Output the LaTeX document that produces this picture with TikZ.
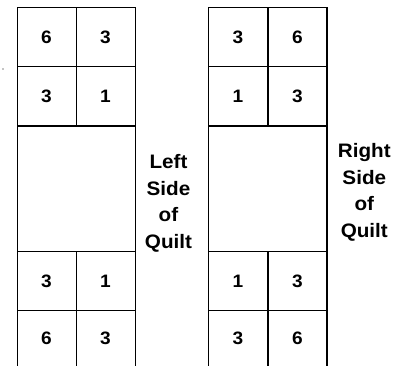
\documentclass[tikz,border=0pt]{standalone}
\usepackage{fontspec}
\setmainfont{Liberation Sans}[FakeStretch=1.06]
\begin{document}
\begin{tikzpicture}[x=1pt,y=-1pt,
  grid/.style={draw=black,line width=1.1pt},
  digit/.style={font=\fontsize{18}{20}\selectfont\bfseries,anchor=center},
  lbl/.style={font=\fontsize{19.5}{22}\selectfont\bfseries,anchor=base}]
\useasboundingbox (0,0) rectangle (400,366);
\clip (0,0) rectangle (400,366);
% left column
\draw[grid] (17.3,7.3) rectangle (135.7,380);
\draw[grid] (17.3,66.7) -- (135.7,66.7);
\draw[grid] (17.3,126) -- (135.7,126);
\draw[grid] (17.3,251.7) -- (135.7,251.7);
\draw[grid] (17.3,310.7) -- (135.7,310.7);
\draw[grid] (76.7,7.3) -- (76.7,126);
\draw[grid] (76.7,251.7) -- (76.7,380);
% right column
\draw[grid] (208.3,7.3) rectangle (327,380);
\draw[grid] (208.3,66.7) -- (327,66.7);
\draw[grid] (208.3,126) -- (327,126);
\draw[grid] (208.3,251.7) -- (327,251.7);
\draw[grid] (208.3,310.7) -- (327,310.7);
\draw[grid] (268,7.3) -- (268,126);
\draw[grid] (268,251.7) -- (268,380);
% digits left
\node[digit] (a1) at (46.5,37) {6};
\node[digit] (a2) at (105.5,37) {3};
\node[digit] (a3) at (46.5,96.3) {3};
\node[digit] (a4) at (105.5,96.3) {1};
\node[digit] (a5) at (46.5,281.2) {3};
\node[digit] (a6) at (105.5,281.2) {1};
\node[digit] (a7) at (46.5,338) {6};
\node[digit] (a8) at (105.5,338) {3};
% digits right
\node[digit] (b1) at (238,37) {3};
\node[digit] (b2) at (297.5,37) {6};
\node[digit] (b3) at (238,96.3) {1};
\node[digit] (b4) at (297.5,96.3) {3};
\node[digit] (b5) at (238,281.2) {1};
\node[digit] (b6) at (297.5,281.2) {3};
\node[digit] (b7) at (238,338) {3};
\node[digit] (b8) at (297.5,338) {6};
% labels
\node[lbl] (l1) at (168.5,169) {Left};
\node[lbl] (l2) at (168.5,195.7) {Side};
\node[lbl] (l3) at (168.5,222) {of};
\node[lbl] (l4) at (168.5,248.3) {Quilt};
\node[lbl] (r1) at (364.3,157.3) {Right};
\node[lbl] (r2) at (364.3,184.5) {Side};
\node[lbl] (r3) at (364.3,210.7) {of};
\node[lbl] (r4) at (364.3,237.3) {Quilt};
% stray dot
\node[circle,fill=black,inner sep=0pt,minimum size=1.4pt] (dot) at (3,69) {};
\end{tikzpicture}
\end{document}
